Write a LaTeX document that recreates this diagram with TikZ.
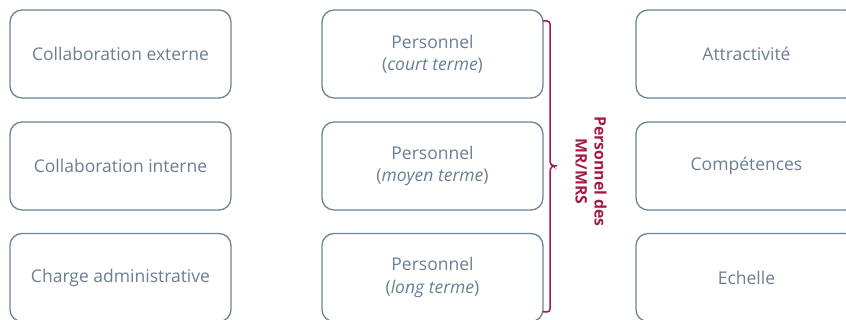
\documentclass[tikz,border=0pt]{standalone}
\usepackage{fontspec}
\setmainfont{Open Sans}
\definecolor{boxc}{HTML}{6F8397}
\definecolor{txtc}{HTML}{6A7E92}
\definecolor{brc}{HTML}{A51A45}
\begin{document}
\begin{tikzpicture}[x=1pt,y=-1pt,
  box/.style={draw=boxc,line width=1.3pt,rounded corners=12pt,minimum width=221pt,minimum height=88pt,
    text=txtc,font=\fontsize{17.5}{22.5}\selectfont,align=center,inner sep=0pt},
  lbl/.style={text=brc,font=\bfseries\fontsize{15.8}{19}\selectfont,align=center,rotate=-90}]
\useasboundingbox (0,0) rectangle (846,320);
\clip (0,0) rectangle (846,320);
\node[box] (a1) at (120.5,54) {Collaboration externe};
\node[box] (a2) at (120.5,166) {Collaboration interne};
\node[box] (a3) at (120.5,277.5) {Charge administrative};
\node[box] (b1) at (432.5,54) {Personnel\\(\textit{court terme})};
\node[box] (b2) at (432.5,166) {Personnel\\(\textit{moyen terme})};
\node[box] (b3) at (432.5,277.5) {Personnel\\(\textit{long terme})};
\node[box] (c1) at (746.5,54) {Attractivité};
\node[box] (c2) at (746.5,166) {Compétences};
\node[box] (c3) at (746.5,277.5) {Echelle};
\coordinate (bt) at (543,21);
\coordinate (bb) at (543,312);
\coordinate (bm) at (557,166);
\draw[brc,line width=1.5pt,rounded corners=3pt] (bt) -- (550,21) -- (550,164) -- ++(3,2) -- (bm);
\draw[brc,line width=1.5pt,rounded corners=3pt] (bb) -- (550,312) -- (550,168) -- ++(3,-2);
\node[lbl] (lab) at (591,171.5) {Personnel des\\MR/MRS};
\end{tikzpicture}
\end{document}
